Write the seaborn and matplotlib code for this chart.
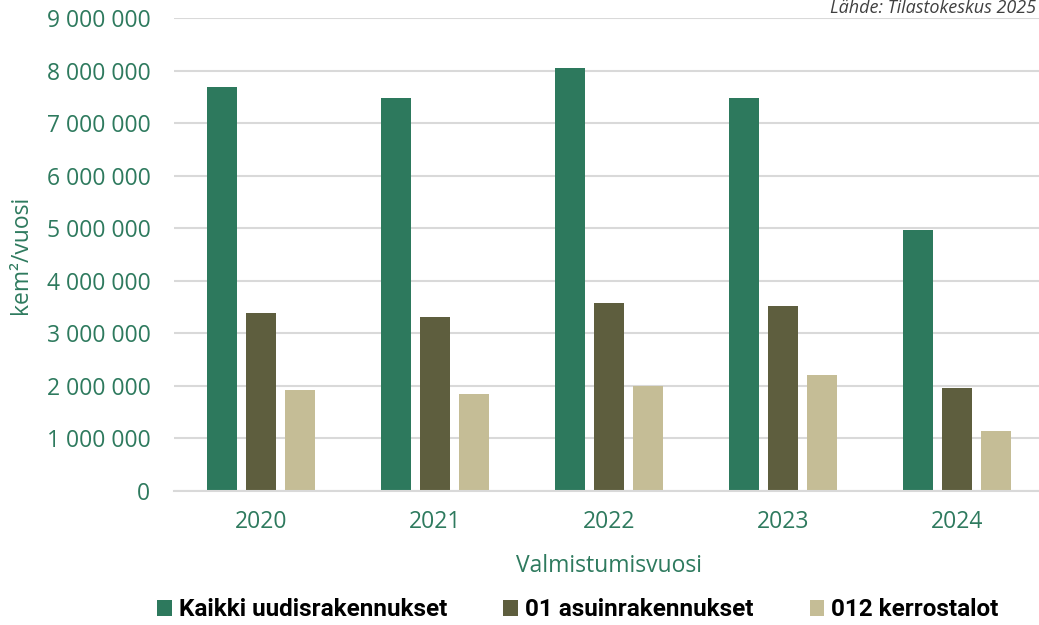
import matplotlib
matplotlib.use("Agg")
import matplotlib.pyplot as plt
import matplotlib.ticker as mticker
from matplotlib.patches import Patch
import seaborn as sns
import pandas as pd

years = ["2020", "2021", "2022", "2023", "2024"]
series = ["Kaikki uudisrakennukset", "01 asuinrakennukset", "012 kerrostalot"]
kaikki = [7690000, 7475000, 8040000, 7475000, 4965000]
asuin = [3390000, 3305000, 3580000, 3525000, 1955000]
kerros = [1920000, 1840000, 1995000, 2205000, 1145000]
yticks = list(range(0, 9000001, 1000000))

colors = ["#2D795D", "#5E5E3E", "#C5BD96"]
txt_green = "#2E7A5E"

rows = []
for s, vals in zip(series, [kaikki, asuin, kerros]):
    for y, v in zip(years, vals):
        rows.append({"year": y, "series": s, "value": v})
df = pd.DataFrame(rows)

sns.set_theme(style="white")
plt.rcParams["font.family"] = ["Open Sans", "DejaVu Sans"]

fig = plt.figure(figsize=(10.39, 6.25), dpi=100)
W, H = 1039, 625
ax = fig.add_axes([174 / W, (H - 491) / H, 870 / W, 473 / H])

sns.barplot(data=df, x="year", y="value", hue="series", palette=colors,
            width=0.672, gap=0.225, ax=ax, legend=False, saturation=1,
            edgecolor="none")

ax.set_ylim(0, 9000000)
ax.set_xlim(-0.5, 4.5)
ax.set_yticks(yticks)
ax.yaxis.set_major_formatter(mticker.FuncFormatter(lambda v, p: f"{int(v):,}".replace(",", " ")))
ax.grid(axis="y", color="#D9D9D9", linewidth=1.5)
ax.set_axisbelow(True)
for sp in ["top", "right", "left"]:
    ax.spines[sp].set_visible(False)
ax.spines["bottom"].set_color("#D9D9D9")
ax.spines["bottom"].set_linewidth(1.5)
ax.tick_params(axis="y", length=0, pad=17, labelsize=16.5, labelcolor=txt_green)
ax.tick_params(axis="x", length=0, pad=14, labelsize=16.5, labelcolor=txt_green)
ax.set_xlabel("Valmistumisvuosi", fontsize=16.5, color=txt_green, labelpad=14)
ax.set_ylabel("kem²/vuosi", fontsize=16.5, color=txt_green, labelpad=10)

fig.text(1036 / W, 1 - 8 / H, "Lähde: Tilastokeskus 2025", fontsize=13, style="italic",
         color="#404040", ha="right", va="center")

handles = [Patch(facecolor=c, edgecolor="none") for c in colors]
leg = fig.legend(handles, series, loc="center", bbox_to_anchor=(578 / W, (H - 610) / H),
                 ncol=3, frameon=False, handlelength=0.6, handleheight=0.6,
                 handletextpad=0.3, columnspacing=2.3, labelcolor="black",
                 prop={"family": ["Roboto", "DejaVu Sans"], "weight": "bold", "size": 17.5})

fig.savefig("out.png", dpi=100)
